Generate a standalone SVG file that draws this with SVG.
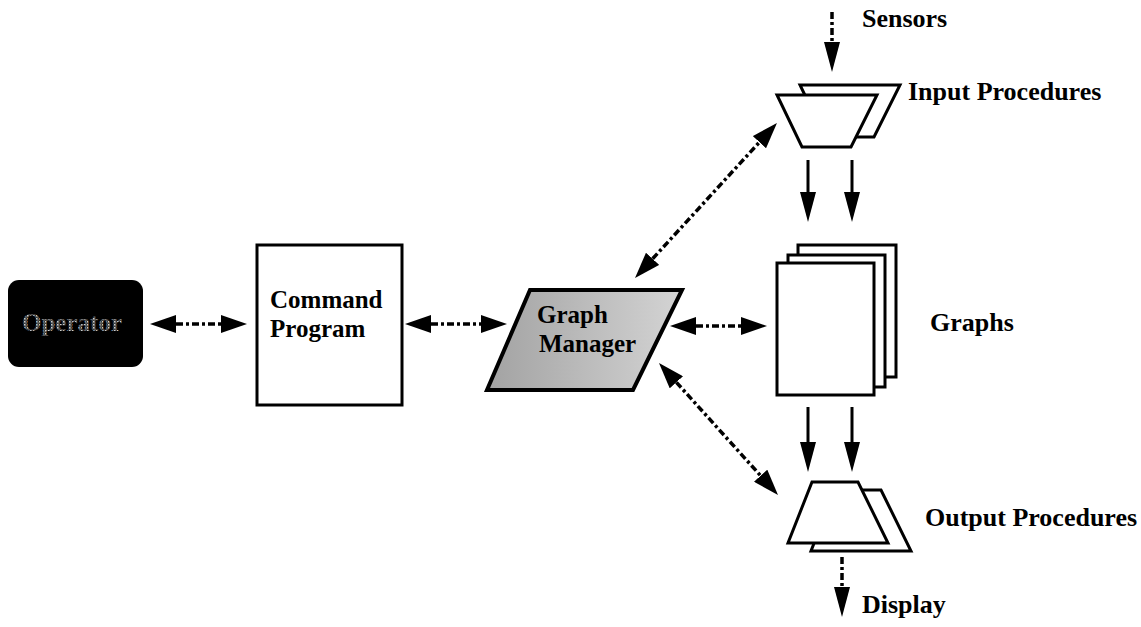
<svg xmlns="http://www.w3.org/2000/svg" width="1141" height="627" viewBox="0 0 1141 627">
  <style>
    .lbl { font-family: "Liberation Serif", "Times New Roman", serif; font-weight: bold; font-size: 25px; fill: #000; }
    .side { font-size: 26px; }
    .box { fill: #fff; stroke: #000; stroke-width: 3; stroke-linejoin: miter; }
    .dash { fill: none; stroke: #000; stroke-width: 3.5; stroke-dasharray: 7 3 3 3; }
    .solid { fill: none; stroke: #000; stroke-width: 3; }
  </style>
  <defs>
    <marker id="dhead" markerUnits="userSpaceOnUse" viewBox="0 0 26 18" markerWidth="26" markerHeight="18" refX="0" refY="9" orient="auto-start-reverse">
      <path d="M0,0 L26,9 L0,18 z" fill="#000"/>
    </marker>
    <marker id="shead" markerUnits="userSpaceOnUse" viewBox="0 0 30 16" markerWidth="30" markerHeight="16" refX="0" refY="8" orient="auto">
      <path d="M0,0 L30,8 L0,16 z" fill="#000"/>
    </marker>
    <linearGradient id="gmFill" x1="0" y1="0" x2="1" y2="0">
      <stop offset="0" stop-color="#a2a2a2"/>
      <stop offset="1" stop-color="#d4d4d4"/>
    </linearGradient>
    <pattern id="grain" width="3" height="3" patternUnits="userSpaceOnUse">
      <rect width="3" height="3" fill="#3a3a3a"/>
      <rect x="0" y="0" width="1.5" height="1.5" fill="#d0d0d0"/>
      <rect x="1.5" y="1.5" width="1" height="1" fill="#a0a0a0"/>
    </pattern>
  </defs>

  <!-- operator console -->
  <g id="operator">
    <rect x="8" y="280" width="135" height="87" rx="11" ry="11" fill="#000"/>
    <text class="lbl" x="72" y="331" text-anchor="middle" style="fill:url(#grain)">Operator</text>
  </g>

  <!-- command program -->
  <g id="command-program">
    <rect class="box" x="257" y="245" width="145" height="160"/>
    <text class="lbl" x="270" y="308">Command</text>
    <text class="lbl" x="270" y="337">Program</text>
  </g>

  <!-- graph manager -->
  <g id="graph-manager">
    <polygon points="530,290 682,290 633,390 487,390" fill="url(#gmFill)" stroke="#000" stroke-width="4" stroke-linejoin="miter"/>
    <text class="lbl" x="537" y="323">Graph</text>
    <text class="lbl" x="539" y="352">Manager</text>
  </g>

  <!-- graphs stack -->
  <g id="graphs">
    <rect class="box" x="798" y="245" width="98" height="132"/>
    <rect class="box" x="788" y="255" width="97" height="132"/>
    <rect class="box" x="777" y="263" width="97" height="132"/>
    <text class="lbl side" x="930" y="331">Graphs</text>
  </g>

  <!-- input procedures -->
  <g id="input-procedures">
    <polygon class="box" points="800,85 900,85 874,137 825,137"/>
    <polygon class="box" points="777,95 877,95 851,147 802,147"/>
    <text class="lbl side" x="908" y="100">Input Procedures</text>
  </g>

  <!-- output procedures -->
  <g id="output-procedures">
    <polygon class="box" points="835,490 881,490 911,551 811,551"/>
    <polygon class="box" points="812,482 858,482 888,543 788,543"/>
    <text class="lbl side" x="925" y="526">Output Procedures</text>
  </g>

  <!-- external sources and sinks -->
  <g id="sensors">
    <text class="lbl side" x="862" y="27">Sensors</text>
  </g>
  <g id="display">
    <text class="lbl side" x="862" y="613">Display</text>
  </g>

  <!-- connectors -->
  <g id="connectors">
    <line class="dash" x1="176" y1="324" x2="221" y2="324" marker-start="url(#dhead)" marker-end="url(#dhead)"/>
    <line class="dash" x1="431" y1="324" x2="481" y2="324" marker-start="url(#dhead)" marker-end="url(#dhead)"/>
    <line class="dash" x1="696" y1="326" x2="741" y2="326" marker-start="url(#dhead)" marker-end="url(#dhead)"/>
    <line class="dash" x1="652.6" y1="258.8" x2="759.4" y2="142.2" marker-start="url(#dhead)" marker-end="url(#dhead)"/>
    <line class="dash" x1="676.4" y1="382.3" x2="760.6" y2="475.7" marker-start="url(#dhead)" marker-end="url(#dhead)"/>
    <line class="dash" x1="832" y1="12" x2="832" y2="42" marker-end="url(#shead)"/>
    <line class="dash" x1="842" y1="557" x2="842" y2="587" marker-end="url(#shead)"/>
    <line class="solid" x1="808" y1="160" x2="808" y2="192" marker-end="url(#shead)"/>
    <line class="solid" x1="852" y1="160" x2="852" y2="192" marker-end="url(#shead)"/>
    <line class="solid" x1="808" y1="407" x2="808" y2="442" marker-end="url(#shead)"/>
    <line class="solid" x1="852" y1="407" x2="852" y2="442" marker-end="url(#shead)"/>
  </g>
</svg>
